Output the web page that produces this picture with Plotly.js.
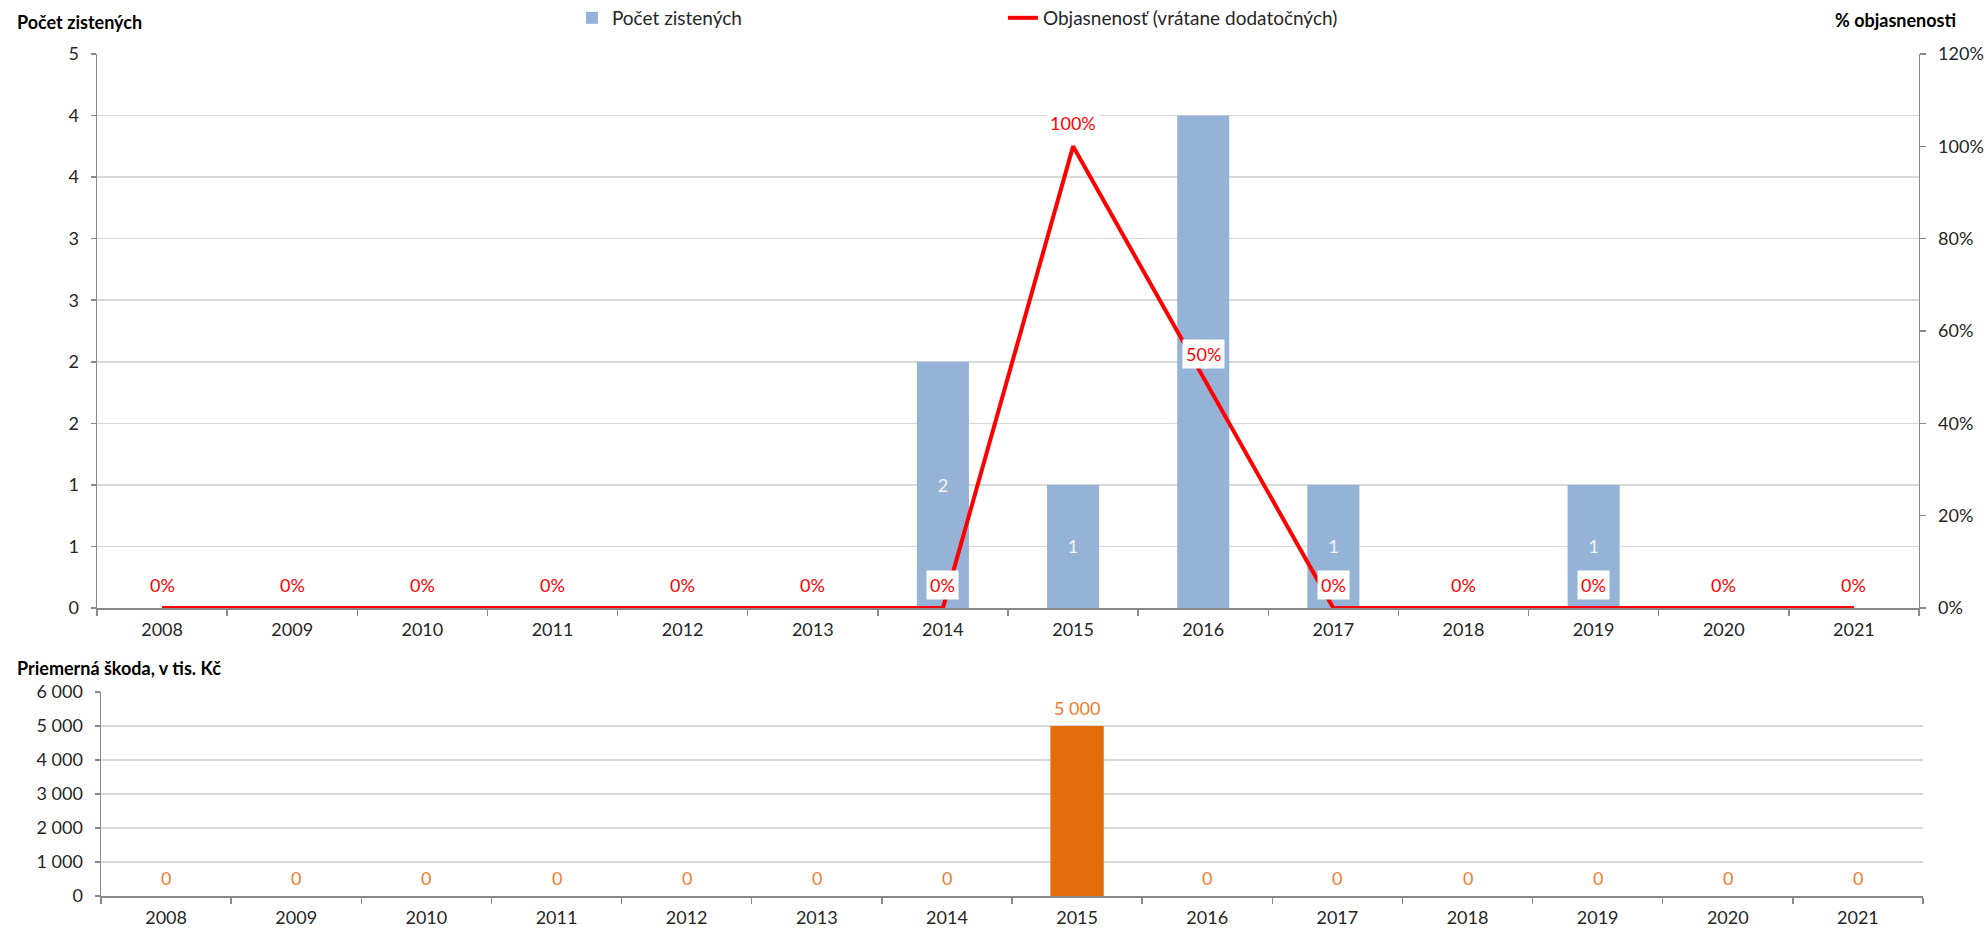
<!DOCTYPE html>
<html>
<head>
<meta charset="utf-8">
<script src="https://cdn.plot.ly/plotly-3.0.1.min.js"></script>
<style>html,body{margin:0;padding:0;background:#fff;}#chart{width:1988px;height:930px;}</style>
</head>
<body>
<div id="chart"></div>
<script>
const years = ['2008','2009','2010','2011','2012','2013','2014','2015','2016','2017','2018','2019','2020','2021'];
const counts = [0,0,0,0,0,0,2,1,4,1,0,1,0,0];
const clearance = [0,0,0,0,0,0,0,1,0.5,0,0,0,0,0];
const damage = [0,0,0,0,0,0,0,5000,0,0,0,0,0,0];
const countTickVals = [0,0.5,1,1.5,2,2.5,3,3.5,4,4.5];
const countTickText = ['0','1','1','2','2','3','3','4','4','5'];
const damageTickVals = [0,1000,2000,3000,4000,5000,6000];
const damageTickText = ['0','1 000','2 000','3 000','4 000','5 000','6 000'];

const FONT = 'Lato, "Open Sans", sans-serif';
const AXIS = '#898989';
const GRID = '#D9D9D9';
const TXT = '#262626';

function fmtThousands(v){ return String(v).replace(/\B(?=(\d{3})+(?!\d))/g,' '); }

const traces = [
  {
    type:'bar', name:'Počet zistených', x:years, y:counts, xaxis:'x', yaxis:'y',
    marker:{color:'#95B3D7'}, width:0.4,
    text: counts.map(v => v>0 ? String(v) : ''),
    textposition:'inside', insidetextanchor:'middle', textangle:0, constraintext:'none',
    textfont:{family:FONT, size:18, color:'#F4F4F4'},
    hoverinfo:'skip'
  },
  {
    type:'scatter', mode:'lines', name:'Objasnenosť (vrátane dodatočných)', x:years, y:clearance,
    xaxis:'x', yaxis:'y2', line:{color:'#FF0000', width:4}, cliponaxis:false, hoverinfo:'skip'
  },
  {
    type:'bar', name:'Priemerná škoda', x:years, y:damage, xaxis:'x2', yaxis:'y3',
    marker:{color:'#E46C0A'}, width:0.41, showlegend:false, hoverinfo:'skip'
  }
];

const annotations = [];
years.forEach((yr,i) => {
  annotations.push({
    x:i, y:clearance[i], xref:'x', yref:'y2', text: Math.round(clearance[i]*100)+'%',
    showarrow:false, yshift:23, bgcolor:'#FFFFFF', borderpad:3,
    font:{family:FONT, size:18, color:'#FF0000'}
  });
  annotations.push({
    x:i, y:damage[i], xref:'x2', yref:'y3', text: fmtThousands(damage[i]),
    showarrow:false, yanchor:'bottom', yshift:5,
    font:{family:FONT, size:18, color:'#ED7D31'}
  });
});
annotations.push({xref:'paper', yref:'paper', x:-0.0449, y:1.038, xanchor:'left', yanchor:'middle',
  text:'<b>Počet zistených</b>', showarrow:false, font:{family:FONT, size:18, color:'#000'}});
annotations.push({xref:'paper', yref:'paper', x:1.0192, y:1.0404, xanchor:'right', yanchor:'middle',
  text:'<b>% objasnenosti</b>', showarrow:false, font:{family:FONT, size:18, color:'#000'}});
annotations.push({xref:'paper', yref:'paper', x:-0.0449, y:0.2708, xanchor:'left', yanchor:'middle',
  text:'<b>Priemerná škoda, v tis. Kč</b>', showarrow:false, font:{family:FONT, size:18, color:'#000'}});

const xCommon = {
  type:'category', range:[-0.5, years.length-0.5], autorange:false,
  showgrid:false, showline:true, linecolor:AXIS, linewidth:1.5,
  ticks:'outside', tickson:'boundaries', ticklen:6, tickcolor:AXIS, tickwidth:1.5,
  ticklabelstandoff:5, tickfont:{family:FONT, size:18, color:TXT}, zeroline:false
};

const layout = {
  width:1988, height:930,
  margin:{l:97, r:65, t:54, b:34, autoexpand:false},
  paper_bgcolor:'#FFFFFF', plot_bgcolor:'#FFFFFF',
  separators:', ',
  barmode:'overlay',
  showlegend:true,
  legend:{orientation:'h', x:0.2601, xanchor:'left', y:1.0428, yanchor:'middle',
    font:{family:FONT, size:19, color:TXT}, entrywidth:386, bgcolor:'rgba(0,0,0,0)'},
  xaxis:Object.assign({}, xCommon, {domain:[0,0.9978], anchor:'y'}),
  yaxis:{domain:[0.342,1], range:[0,4.5], tickmode:'array', tickvals:countTickVals, ticktext:countTickText,
    showgrid:true, gridcolor:GRID, gridwidth:1.5, zeroline:false, showline:true, linecolor:AXIS, linewidth:1.5,
    ticks:'outside', ticklen:5, tickcolor:AXIS, tickwidth:1.5, ticklabelstandoff:8,
    tickfont:{family:FONT, size:18, color:TXT}},
  yaxis2:{overlaying:'y', side:'right', anchor:'x', range:[0,1.2], dtick:0.2, tick0:0, tickformat:'.0%',
    showgrid:false, zeroline:false, showline:true, linecolor:AXIS, linewidth:1.5,
    ticks:'outside', ticklen:6, tickcolor:AXIS, tickwidth:1.5, ticklabelstandoff:8,
    tickfont:{family:FONT, size:18, color:TXT}},
  xaxis2:Object.assign({}, xCommon, {domain:[0.0022,1], anchor:'y3'}),
  yaxis3:{domain:[0,0.2423], anchor:'x2', range:[0,6000], tickmode:'array', tickvals:damageTickVals, ticktext:damageTickText,
    showgrid:true, gridcolor:GRID, gridwidth:1.5, zeroline:false, showline:true, linecolor:AXIS, linewidth:1.5,
    ticks:'outside', ticklen:5, tickcolor:AXIS, tickwidth:1.5, ticklabelstandoff:8,
    tickfont:{family:FONT, size:18, color:TXT}},
  annotations:annotations
};

Plotly.newPlot('chart', traces, layout, {staticPlot:true, displayModeBar:false});
</script>
</body>
</html>
